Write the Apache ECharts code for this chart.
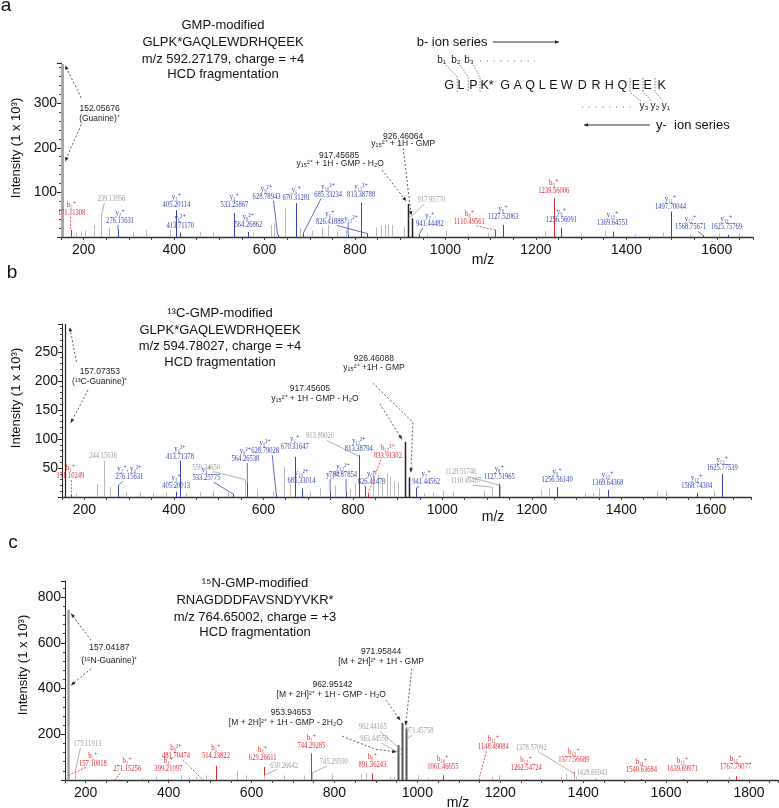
<!DOCTYPE html>
<html>
<head>
<meta charset="utf-8">
<script src="https://cdn.jsdelivr.net/npm/echarts@6/dist/echarts.min.js"></script>
<style>
  html, body { margin: 0; padding: 0; background: #fff; }
  #chart { width: 779px; height: 808px; }
</style>
</head>
<body>
<div id="chart"></div>
<script>
// ---- panel a : GMP-modified GLPK*GAQLEWDRHQEEK ----
const aIonMz = [171.11308, 239.13956, 276.15631, 405.20114, 413.71170, 533.25867, 564.26862, 628.78943, 670.31281, 685.33234, 784.87854, 813.38788, 826.41888, 917.95770, 941.44482, 1110.49561, 1127.52063, 1239.56006, 1256.56091, 1369.64551, 1497.70044, 1568.75671, 1625.75769];
const aIonInt = [16, 47, 16, 60, 10, 54, 11, 5, 76, 8, 5, 77, 8, 40, 5, 16, 27, 87, 21, 12, 57, 4, 5];
const aIonName = ['b₂⁺', '', 'y₂⁺', 'y₃⁺', 'y₆²⁺', 'y₄⁺', 'y₈²⁺', 'y₉²⁺', 'y₅⁺', 'y₁₀²⁺', 'y₁₂²⁺', 'y₁₃²⁺', 'y₆⁺', '', 'y₇⁺', 'b₈⁺', 'y₈⁺', 'b₉⁺', 'y₉⁺', 'y₁₀⁺', 'y₁₁⁺', 'y₁₂⁺', 'y₁₃⁺'];
const aIonKind = ['b', 'o', 'y', 'y', 'y', 'y', 'y', 'y', 'y', 'y', 'y', 'y', 'y', 'o', 'y', 'b', 'y', 'b', 'y', 'y', 'y', 'y', 'y'];
const aPrecMz = [917.45685, 926.46064];
const aPrecInt = [74, 42];
const aPrecName = ['y₁₅²⁺ + 1H - GMP - H₂O', 'y₁₅²⁺ + 1H - GMP'];
const aMarkerMz = [152.05676];
const aMarkerInt = [388];
const aMarkerName = ['(Guanine)⁺'];
const aNoiseMz = [183, 195, 202, 224, 257, 309, 338, 390, 457, 486, 574, 615, 622, 644.7, 678, 704, 726, 740, 760, 781, 847, 858, 866, 873, 881, 908, 960, 1002, 1050, 1095, 1221, 1300, 1353, 1420, 1482, 1540, 1604, 1648];
const aNoiseInt = [10, 12, 14, 27, 20, 12, 16, 16, 12, 10, 10, 27, 31, 64, 20, 14, 20, 27, 12, 16, 22, 26, 27, 28, 27, 22, 8, 14, 6, 10, 13, 6, 14, 6, 10, 6, 8, 8];

// ---- panel b : 13C-GMP-modified ----
const bIonMz = [171.10249, 244.15616, 276.15631, 405.20013, 413.71378, 533.25775, 559.34650, 564.26538, 628.79028, 670.31647, 685.33014, 749.36, 784.87854, 813.89020, 813.38794, 826.41479, 833.91302, 941.44562, 1110.49487, 1128.51746, 1127.51965, 1256.56140, 1369.64368, 1568.74304, 1625.77539];
const bIonInt = [5, 62, 20, 9, 63, 5, 30, 24, 5, 69, 15, 10, 10, 70, 72, 18, 6, 15, 17, 20, 23, 17, 12, 7, 40];
const bIonName = ['b₂⁺', '', 'y₂⁺, y₄²⁺', 'y₃⁺', 'y₆²⁺', 'y₄⁺', '', 'y₈²⁺', 'y₉²⁺', 'y₅⁺', 'y₁₀²⁺', 'y₁₁²⁺', 'y₁₂²⁺', '', 'y₁₃²⁺', 'y₆⁺', 'b₁₂²⁺', 'y₇⁺', '', '', 'y₈⁺', 'y₉⁺', 'y₁₀⁺', 'y₁₂⁺', 'y₁₃⁺'];
const bIonKind = ['b', 'o', 'y', 'y', 'y', 'y', 'o', 'y', 'y', 'y', 'y', 'y', 'y', 'o', 'y', 'y', 'b', 'y', 'o', 'o', 'y', 'y', 'y', 'y', 'y'];
const bPrecMz = [917.45605, 926.46088];
const bPrecInt = [95, 34];
const bPrecName = ['y₁₅²⁺ + 1H - GMP - H₂O', 'y₁₅²⁺ +1H - GMP'];
const bMarkerMz = [157.07353];
const bMarkerInt = [298];
const bMarkerName = ['(¹³C-Guanine)⁺'];
const bNoiseMz = [182, 228, 257, 294, 324, 353, 383, 428, 458, 488, 520, 585, 622, 646, 659, 704, 727, 760, 794, 805, 846, 856, 866, 876, 884, 893, 900, 960, 979, 1002, 1024, 1093, 1221, 1239, 1319, 1337, 1351, 1480, 1499, 1608];
const bNoiseInt = [6, 23, 17, 8, 8, 6, 8, 6, 8, 10, 8, 12, 10, 52, 23, 10, 15, 20, 14, 24, 45, 38, 30, 40, 35, 28, 25, 7, 8, 11, 8, 10, 12, 15, 7, 7, 15, 10, 10, 10];

// ---- panel c : 15N-GMP-modified RNAGDDDFAVSNDYVKR* ----
const cIonMz = [157.10818, 175.11913, 271.15256, 399.21097, 481.70474, 514.23822, 629.26611, 630.26642, 744.29285, 745.29590, 891.36243, 962.44165, 963.44556, 971.45758, 1061.46655, 1148.49084, 1262.54724, 1377.56689, 1378.57092, 1428.66943, 1540.63684, 1639.69971, 1767.79077];
const cIonInt = [20, 40, 3, 3, 3, 62, 57, 20, 116, 30, 28, 130, 110, 175, 21, 3, 3, 35, 28, 5, 5, 5, 17];
const cIonName = ['b₁⁺', '', 'b₂⁺', 'b₄⁺', 'b₉²⁺', 'b₅⁺', 'b₆⁺', '', 'b₇⁺', '', 'b₈⁺', '', '', '', 'b₁₀⁺', 'b₁₁⁺', 'b₁₂⁺', 'b₁₃⁺', '', '', 'b₁₄⁺', 'b₁₅⁺', 'b₁₆⁺'];
const cIonKind = ['b', 'o', 'b', 'b', 'b', 'b', 'b', 'o', 'b', 'o', 'b', 'o', 'o', 'o', 'b', 'b', 'b', 'b', 'o', 'o', 'b', 'b', 'b'];
const cPrecMz = [953.94653, 962.95142, 971.95844];
const cPrecInt = [152, 250, 225];
const cPrecName = ['[M + 2H]²⁺ + 1H - GMP - 2H₂O', '[M + 2H]²⁺ + 1H - GMP - H₂O', '[M + 2H]²⁺ + 1H - GMP'];
const cMarkerMz = [157.04187];
const cMarkerInt = [745];
const cMarkerName = ['(¹⁵N-Guanine)⁺'];
const cNoiseMz = [336, 369, 430, 450, 466, 490, 564.8, 586, 679, 727, 795, 863, 875, 935, 943, 1002.7, 1026.8, 1181, 1197, 1297, 1346, 1358, 1382, 1430, 1752, 1784];
const cNoiseInt = [10, 15, 20, 10, 15, 20, 40, 20, 20, 20, 25, 25, 30, 14, 14, 21, 10, 15, 21, 8, 14, 28, 15, 10, 15, 8];

// headers
const aTitle = ['GMP-modified', 'GLPK*GAQLEWDRHQEEK', 'm/z 592.27179, charge = +4', 'HCD fragmentation'];
const bTitle = ['¹³C-GMP-modified', 'GLPK*GAQLEWDRHQEEK', 'm/z 594.78027, charge = +4', 'HCD fragmentation'];
const cTitle = ['¹⁵N-GMP-modified', 'RNAGDDDFAVSNDYVKR*', 'm/z 764.65002, charge = +3', 'HCD fragmentation'];
const sequence = ['G', 'L', 'P', 'K*', 'G', 'A', 'Q', 'L', 'E', 'W', 'D', 'R', 'H', 'Q', 'E', 'E', 'K'];

// ---- label placement (pixel offsets from the peak top) ----
const aIonLabelAt = [[1, -17, 1], [10, -17, 1], [2, -9, 1], [0, -5, 0], [0, -7, 0], [0, -8, 0], [0, -7, 0], [-11, -38, 1], [0, -5, 0], [25, -39, 1], [3, -16, 1], [0, -8, 0], [-37, -12, 1], [23, -19, 1], [11, -11, 1], [-26, -8, 1], [0, -8, 0], [0, -7, 0], [0, -8, 0], [0, -9, 0], [0, -5, 0], [-12, -8, 1], [-2, -8, 0]];
const aNameOnly = [10];
const aPrecAt = [
  { l1: [-69, -48], l2: [-68, -40], arrows: [[[-26, -34], [-2, -3]]] },
  { l1: [-9, -82], l2: [-9, -74.5], arrows: [[[-9, -70], [-1, -3]]] }
];
const aMarkerAt = [{ l1: [37.6, 45], l2: [37.6, 54.4], arrows: [[[19.3, 34], [3.3, 1.7]], [[19.3, 60.7], [3.3, 97.4]]] }];

const bIonLabelAt = [[-1, -18, 1], [-1, -5, 0], [11, -8, 1], [0, -6, 0], [0, -4, 0], [-27, -16, 1], [-39, -12, 1], [-2, -24, 1], [-11, -43, 1], [0, -10, 0], [0, -7, 0], [3, -16, 1], [-3, -16, 1], [-39, -20, 1], [0, -6, 0], [7, -5, 1], [20, -38, 1], [10, -6, 1], [-26, -6, 1], [-39, -13, 1], [0, -7, 0], [0, -7, 0], [0, -7, 0], [0, -7, 0], [0, -6, 0]];
const bNameOnly = [11];
const bPrecAt = [
  { l1: [-95.5, -53], l2: [-90.5, -43], arrows: [[[-25.5, -38], [-3.5, -2.6]]] },
  { l1: [-35.5, -119], l2: [-35.5, -110], arrows: [[[-36.5, -94], [3.5, -55], [1.5, -5]]] }
];
const bMarkerAt = [{ l1: [34.6, 47.8], l2: [34.6, 58], arrows: [[[11.3, 37.8], [4.6, 3.4]], [[22.9, 66], [5.6, 98.8]]] }];

const cIonLabelAt = [[25, -12, 1], [12, -27, 1], [12, -10, 1], [0, -10, 0], [-26.5, -23, 1], [0, -10, 0], [-1, -9, 0], [20, -10, 1], [0, -8, 0], [22, -11, 1], [0, -9, 0], [-29, -23, 1], [-28, -16, 1], [14, -9, 1], [0, -8, 0], [14.5, -32, 1], [0, -11, 0], [0, -12, 0], [-43, -26, 1], [-3, -6, 0], [0, -9, 0], [0, -10, 0], [0, -9, 0]];
const cNameOnly = [];
const cPrecAt = [
  { l1: [-107.4, -32.3], l2: [-112.4, -22.3], arrows: [[[-56, -9], [-23, 4], [-2, 6.7]]] },
  { l1: [-69.5, -38.3], l2: [-70.8, -28.6], arrows: [[[-16, -22.6], [-1.8, -2.6]]] },
  { l1: [-24.6, -76.6], l2: [-24.6, -66.6], arrows: [[[6, -60], [0, -3.3]]] }
];
const cMarkerAt = [{ l1: [41.5, 38.4], l2: [41.5, 51], arrows: [[[23.2, 30.7], [3.2, 4]], [[23.2, 59], [3.2, 75.7]]] }];

const RED = '#e3262d', BLUE = '#3446b4', NOISE = '#b9b9b9';
const KIND_COLOR = { b: RED, y: BLUE, o: '#9d9d9d' };
const SANS = '"Liberation Sans", Arial, sans-serif';
const LABEL_FONT = '8px "Liberation Serif", "DejaVu Serif", serif';
const NOTE_FONT = '8.5px ' + SANS;

const txt = (s, x, y, fill, font, align, sx) => ({
  type: 'text', x: x, y: y, scaleX: sx || 1,
  style: { text: s, fill: fill, font: font, align: align || 'center', verticalAlign: 'middle' }
});

function arrowHead(pts, color) {
  const a = pts[pts.length - 2], b = pts[pts.length - 1];
  const ang = Math.atan2(b[1] - a[1], b[0] - a[0]);
  const L = 4, W = 1.8;
  const bx = b[0] - L * Math.cos(ang), by = b[1] - L * Math.sin(ang);
  return {
    type: 'polygon',
    shape: { points: [b, [bx + W * Math.sin(ang), by - W * Math.cos(ang)], [bx - W * Math.sin(ang), by + W * Math.cos(ang)]] },
    style: { fill: color }
  };
}

function sticks(k, mz, inten, colors, width, z) {
  return {
    type: 'custom', xAxisIndex: k, yAxisIndex: k, z: z, silent: true,
    data: mz.map((m, i) => [m, inten[i], i]),
    renderItem(params, api) {
      const t = api.coord([api.value(0), api.value(1)]);
      const b = api.coord([api.value(0), 0]);
      const x = Math.round(t[0]) + 0.5;
      const col = Array.isArray(colors) ? colors[api.value(2)] : colors;
      return { type: 'line', shape: { x1: x, y1: t[1], x2: x, y2: b[1] }, style: { stroke: col, lineWidth: width } };
    }
  };
}

function ionLabels(k, mz, inten, names, kinds, at, nameOnly) {
  return {
    type: 'custom', xAxisIndex: k, yAxisIndex: k, z: 6, silent: true,
    data: mz.map((m, i) => [m, inten[i], i]),
    renderItem(params, api) {
      const i = api.value(2);
      const p = api.coord([api.value(0), api.value(1)]);
      const lx = p[0] + at[i][0], ly = p[1] + at[i][1];
      const col = KIND_COLOR[kinds[i]];
      const kids = [];
      const showMz = nameOnly.indexOf(i) < 0;
      if (showMz) kids.push(txt(mz[i].toFixed(5), lx, ly, col, LABEL_FONT, 'center', 0.82));
      if (names[i]) kids.push(txt(names[i], lx, showMz ? ly - 8 : ly, col, LABEL_FONT, 'center', 0.85));
      if (at[i][2]) {
        const sx = lx + Math.max(-7, Math.min(7, p[0] - lx));
        kids.push({
          type: 'line', shape: { x1: sx, y1: ly + 4, x2: p[0], y2: p[1] },
          style: { stroke: col, lineWidth: 0.8, lineDash: kinds[i] === 'b' ? [2, 1.5] : null }
        });
      }
      return { type: 'group', children: kids };
    }
  };
}

function notes(k, mz, inten, names, at) {
  return {
    type: 'custom', xAxisIndex: k, yAxisIndex: k, z: 7, silent: true,
    data: mz.map((m, i) => [m, inten[i], i]),
    renderItem(params, api) {
      const i = api.value(2);
      const p = api.coord([api.value(0), api.value(1)]);
      const a = at[i];
      const kids = [
        txt(mz[i].toFixed(5), p[0] + a.l1[0], p[1] + a.l1[1], '#222', NOTE_FONT),
        txt(names[i], p[0] + a.l2[0], p[1] + a.l2[1], '#222', NOTE_FONT)
      ];
      a.arrows.forEach(ar => {
        const pts = ar.map(q => [p[0] + q[0], p[1] + q[1]]);
        kids.push({ type: 'polyline', shape: { points: pts }, style: { stroke: '#333', lineWidth: 0.8, lineDash: [2, 2], fill: null } });
        kids.push(arrowHead(pts, '#222'));
      });
      return { type: 'group', children: kids };
    }
  };
}

function panelSeries(k, d) {
  return [
    sticks(k, d.noiseMz, d.noiseInt, NOISE, 1, 2),
    sticks(k, d.ionMz, d.ionInt, d.ionKind.map(t => t === 'o' ? NOISE : KIND_COLOR[t]), 1, 3),
    sticks(k, d.precMz, d.precInt, d.precColor, d.precWidth, 4),
    sticks(k, d.markerMz, d.markerInt, d.markerColor, d.markerWidth, 4),
    ionLabels(k, d.ionMz, d.ionInt, d.ionName, d.ionKind, d.ionAt, d.nameOnly),
    notes(k, d.precMz, d.precInt, d.precName, d.precAt),
    notes(k, d.markerMz, d.markerInt, d.markerName, d.markerAt)
  ];
}

const panels = [
  { ionMz: aIonMz, ionInt: aIonInt, ionName: aIonName, ionKind: aIonKind, ionAt: aIonLabelAt, nameOnly: aNameOnly,
    precMz: aPrecMz, precInt: aPrecInt, precName: aPrecName, precAt: aPrecAt, precColor: '#222', precWidth: 1.5,
    markerMz: aMarkerMz, markerInt: aMarkerInt, markerName: aMarkerName, markerAt: aMarkerAt, markerColor: '#a8a8a8', markerWidth: 3,
    noiseMz: aNoiseMz, noiseInt: aNoiseInt },
  { ionMz: bIonMz, ionInt: bIonInt, ionName: bIonName, ionKind: bIonKind, ionAt: bIonLabelAt, nameOnly: bNameOnly,
    precMz: bPrecMz, precInt: bPrecInt, precName: bPrecName, precAt: bPrecAt, precColor: '#222', precWidth: 1.5,
    markerMz: bMarkerMz, markerInt: bMarkerInt, markerName: bMarkerName, markerAt: bMarkerAt, markerColor: '#222', markerWidth: 1.2,
    noiseMz: bNoiseMz, noiseInt: bNoiseInt },
  { ionMz: cIonMz, ionInt: cIonInt, ionName: cIonName, ionKind: cIonKind, ionAt: cIonLabelAt, nameOnly: cNameOnly,
    precMz: cPrecMz, precInt: cPrecInt, precName: cPrecName, precAt: cPrecAt, precColor: '#555', precWidth: 2,
    markerMz: cMarkerMz, markerInt: cMarkerInt, markerName: cMarkerName, markerAt: cMarkerAt, markerColor: '#a0a0a0', markerWidth: 2.5,
    noiseMz: cNoiseMz, noiseInt: cNoiseInt }
];

const grids = [
  { left: 61, right: 26, top: 63, height: 174 },
  { left: 62, right: 28, top: 324, height: 173 },
  { left: 65, right: 1, top: 581, height: 199 }
];
const xRanges = [[150, 1680], [150, 1690], [150, 1870]];
const yRanges = [[0, 390, 100], [0, 298, 50], [0, 870, 200]];

const xAxes = xRanges.map((r, k) => ({
  type: 'value', gridIndex: k, min: r[0], max: r[1], interval: 50,
  axisLine: { show: true, lineStyle: { color: '#333', width: 1.3 } },
  axisTick: { show: true, length: 3, lineStyle: { color: '#444', width: 1 } },
  axisLabel: { show: true, fontSize: 14, fontFamily: SANS, color: '#111', margin: 6,
    formatter: v => (v % 200 === 0 ? String(v) : '') },
  splitLine: { show: false }
}));
const yAxes = yRanges.map((r, k) => ({
  type: 'value', gridIndex: k, min: r[0], max: r[1], interval: r[2],
  axisLine: { show: true, lineStyle: { color: '#222', width: 1 } },
  axisTick: { show: true, length: 4, lineStyle: { color: '#222' } },
  minorTick: { show: true, splitNumber: 5, length: 2, lineStyle: { color: '#444' } },
  axisLabel: { show: true, fontSize: 14, fontFamily: SANS, color: '#111', margin: 4,
    formatter: v => (v > 0 && v % r[2] === 0 ? String(v) : '') },
  splitLine: { show: false }
}));

// titles, axis names, sequence diagram
const g = [];
const TITLE_FONT = '13px ' + SANS;
[[aTitle, 223, [25, 42, 59, 74]], [bTitle, 220, [313, 330.5, 346.7, 362.3]], [cTitle, 255, [583.3, 600, 617, 632.7]]]
  .forEach(([lines, cx, ys]) => lines.forEach((s, i) => g.push(txt(s, cx, ys[i], '#111', TITLE_FONT))));
[['a', 6, 6], ['b', 12, 273], ['c', 13, 543]].forEach(([s, x, y]) => g.push(txt(s, x, y, '#111', '19px ' + SANS)));
[[16, 148], [16, 398], [23, 665]].forEach(([x, y]) => {
  const t = txt('Intensity (1 x 10³)', x, y, '#111', TITLE_FONT);
  t.rotation = Math.PI / 2;
  g.push(t);
});
[[483, 260], [493, 517], [458, 803]].forEach(([x, y]) => g.push(txt('m/z', x, y, '#111', '14px ' + SANS)));

// sequence coverage sketch (panel a)
const seqX = [449, 461, 473.3, 487, 505, 517.7, 530, 542.3, 553.3, 566.7, 582.3, 596, 609.3, 622.3, 636, 647.7, 661.7];
sequence.forEach((s, i) => g.push(txt(s, seqX[i], 86, '#111', '12.5px ' + SANS)));
g.push(txt('b- ion series', 416.7, 42, '#111', TITLE_FONT, 'left'));
g.push(txt('y-  ion series', 656, 125, '#111', TITLE_FONT, 'left'));
const arrowLine = (x1, x2, y) => {
  g.push({ type: 'line', shape: { x1: x1, y1: y, x2: x2, y2: y }, style: { stroke: '#333', lineWidth: 1 } });
  g.push(arrowHead([[x1, y], [x2, y]], '#222'));
};
arrowLine(493, 559, 42);
arrowLine(650, 584, 125);
[['b₁', 441.7], ['b₂', 456], ['b₃', 469]].forEach(([s, x]) => g.push(txt(s, x, 60, '#222', '10px ' + SANS)));
[['y₃', 644], ['y₂', 655], ['y₁', 666]].forEach(([s, x]) => g.push(txt(s, x, 106.7, '#222', '10px ' + SANS)));
const dotted = (pts, dash) => g.push({ type: 'polyline', shape: { points: pts }, style: { stroke: '#555', lineWidth: 0.8, lineDash: dash || [1.5, 1.5], fill: null } });
dotted([[480, 61], [535, 61]], [1.2, 5.6]);
dotted([[582, 107], [636, 107]], [1.2, 5.6]);
[[446, 457.3], [460, 468.3], [473, 480]].forEach(([bx, sx]) => dotted([[bx, 65], [sx, 77], [sx, 92]]));
[[630, 641], [643, 652], [655, 663.5]].forEach(([sx, yx]) => dotted([[sx, 78], [sx, 92], [yx, 101.5]]));

const chart = echarts.init(document.getElementById('chart'), null, { renderer: 'canvas' });
chart.setOption({
  animation: false,
  backgroundColor: '#fff',
  grid: grids.map(gr => Object.assign({ containLabel: false, outerBoundsMode: 'none' }, gr)),
  xAxis: xAxes,
  yAxis: yAxes,
  series: [].concat(panelSeries(0, panels[0]), panelSeries(1, panels[1]), panelSeries(2, panels[2])),
  graphic: { elements: g.map(e => Object.assign({ silent: true }, e)) }
});
</script>
</body>
</html>
